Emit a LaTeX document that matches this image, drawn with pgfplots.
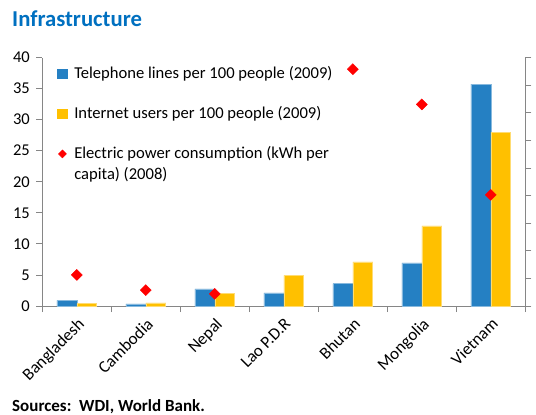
\documentclass[border=0pt]{standalone}
\usepackage{fontspec}
\setmainfont{Carlito}
\usepackage{pgfplots}
\usepackage{pgfplotstable}
\pgfplotsset{compat=1.18}

\definecolor{telblue}{RGB}{37,128,195}
\definecolor{netyellow}{RGB}{255,192,0}
\definecolor{titleblue}{RGB}{0,112,192}
\definecolor{axisgray}{RGB}{134,134,134}

% telephone lines and internet users per 100 people (2009)
\pgfplotstableread{
idx tel  net
0   0.9  0.4
1   0.35 0.5
2   2.75 2.05
3   2.1  4.95
4   3.6  7.1
5   6.95 12.9
6   35.7 27.95
}\bars

% electric power consumption, kWh per capita (2008); no value for Lao
\pgfplotstableread{
idx kwh
0   225
1   115
2   88
4   1715
5   1460
6   805
}\power

\pgfplotsset{
  base/.style={
    scale only axis, width=483bp, height=248.5bp,
    at={(0,0)}, anchor=south west,
    xmin=-0.5, xmax=6.5,
    axis line style={axisgray, line width=0.8bp},
    tick style={axisgray, line width=0.8bp},
    tick align=outside, major tick length=6bp, minor tick length=6bp,
    tick label style={font=\fontsize{16.5bp}{19bp}\selectfont},
    /pgf/number format/assume math mode=true,
  }
}

\begin{document}
\begin{tikzpicture}
\begin{axis}[base,
  axis y line*=left, axis x line*=bottom,
  ymin=0, ymax=40, ytick={0,5,...,40},
  yticklabel style={xshift=-3bp},
  xtick={0,...,6},
  xticklabels={Bangladesh,Cambodia,Nepal,Lao P.D.R,Bhutan,Mongolia,Vietnam},
  xticklabel style={rotate=45, anchor=north east, font=\fontsize{17bp}{19bp}\selectfont},
  major x tick style={draw=none},
  minor xtick={-0.5,0.5,...,6.5},
  ybar, bar width=0.2894,
]
\addplot[fill=telblue, draw=telblue!55!white, line width=0.6bp, bar shift=-0.1447] table[x=idx, y=tel] {\bars};
\addplot[fill=netyellow, draw=netyellow!55!white, line width=0.6bp, bar shift=0.1447] table[x=idx, y=net] {\bars};
\end{axis}

\begin{axis}[base,
  axis y line*=right, axis x line=none,
  ymin=0, ymax=1800, ytick distance=200, yticklabels={},
  legend cell align=left,
  legend style={draw=none, fill=none, inner sep=0pt,
    at={(rel axis cs:0,1)}, anchor=north west, xshift=15bp, yshift=-8bp,
    row sep=23.5bp, column sep=5bp,
    font=\fontsize{16.6bp}{21bp}\selectfont,
    cells={anchor=west, inner sep=0pt, text height=11bp, text depth=4bp}},
]
\addlegendimage{legend image code/.code={\fill[telblue] (0bp,-4.7bp) rectangle (9.4bp,4.7bp);}}
\addlegendentry{Telephone lines per 100 people (2009)}
\addlegendimage{legend image code/.code={\fill[netyellow] (0bp,-4.7bp) rectangle (9.4bp,4.7bp);}}
\addlegendentry{Internet users per 100 people (2009)}
\addplot[only marks, mark=square*, mark size=3.9bp, mark options={rotate=45, fill=red, draw=red},
  legend image code/.code={\fill[red] (4.7bp,-4bp) -- (8.7bp,0bp) -- (4.7bp,4bp) -- (0.7bp,0bp) -- cycle;}]
  table[x=idx, y=kwh] {\power};
\addlegendentry{\raisebox{0pt}[11bp][4bp]{\begin{tabular}[t]{@{}l@{}}Electric power consumption (kWh per\\capita) (2008)\end{tabular}}}
\end{axis}

\node[anchor=base west, font=\fontsize{22.7bp}{25bp}\selectfont\bfseries, text=titleblue, inner sep=0pt]
  at (-30.3bp,279bp) {Infrastructure};
\node[anchor=base west, font=\fontsize{17bp}{19bp}\selectfont\bfseries, inner sep=0pt]
  at (-30.3bp,-105.5bp) {Sources:\ \ WDI, World Bank.};

\pgfresetboundingbox
\path[use as bounding box] (-42.3bp,-109bp) rectangle (493.7bp,306bp);
\end{tikzpicture}
\end{document}
